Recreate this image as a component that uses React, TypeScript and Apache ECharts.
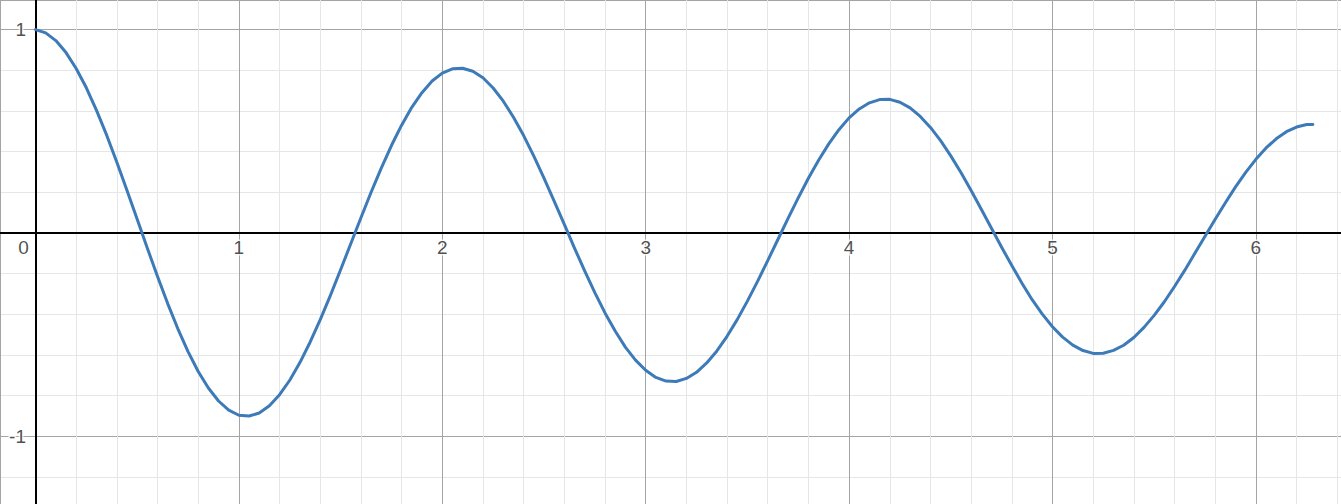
import { useEffect, useRef } from "react";
import * as echarts from "echarts";

// curve samples (x every 0.05, plus the end point at 2π)
const xs = [
  0, 0.05, 0.1, 0.15, 0.2, 0.25, 0.3, 0.35, 0.4, 0.45,
  0.5, 0.55, 0.6, 0.65, 0.7, 0.75, 0.8, 0.85, 0.9, 0.95,
  1.0, 1.05, 1.1, 1.15, 1.2, 1.25, 1.3, 1.35, 1.4, 1.45,
  1.5, 1.55, 1.6, 1.65, 1.7, 1.75, 1.8, 1.85, 1.9, 1.95,
  2.0, 2.05, 2.1, 2.15, 2.2, 2.25, 2.3, 2.35, 2.4, 2.45,
  2.5, 2.55, 2.6, 2.65, 2.7, 2.75, 2.8, 2.85, 2.9, 2.95,
  3.0, 3.05, 3.1, 3.15, 3.2, 3.25, 3.3, 3.35, 3.4, 3.45,
  3.5, 3.55, 3.6, 3.65, 3.7, 3.75, 3.8, 3.85, 3.9, 3.95,
  4.0, 4.05, 4.1, 4.15, 4.2, 4.25, 4.3, 4.35, 4.4, 4.45,
  4.5, 4.55, 4.6, 4.65, 4.7, 4.75, 4.8, 4.85, 4.9, 4.95,
  5.0, 5.05, 5.1, 5.15, 5.2, 5.25, 5.3, 5.35, 5.4, 5.45,
  5.5, 5.55, 5.6, 5.65, 5.7, 5.75, 5.8, 5.85, 5.9, 5.95,
  6.0, 6.05, 6.1, 6.15, 6.2, 6.25, 6.28,
];
const ys = [
  1.0, 0.984, 0.946, 0.887, 0.809, 0.714, 0.603, 0.481, 0.348, 0.209,
  0.067, -0.075, -0.214, -0.347, -0.471, -0.583, -0.681, -0.762, -0.826, -0.871,
  -0.896, -0.9, -0.885, -0.849, -0.795, -0.724, -0.637, -0.537, -0.426, -0.307,
  -0.181, -0.053, 0.075, 0.2, 0.319, 0.43, 0.53, 0.618, 0.69, 0.747,
  0.786, 0.807, 0.81, 0.795, 0.763, 0.713, 0.648, 0.569, 0.479, 0.378,
  0.27, 0.157, 0.042, -0.074, -0.186, -0.293, -0.393, -0.482, -0.561, -0.625,
  -0.675, -0.71, -0.728, -0.73, -0.715, -0.685, -0.639, -0.58, -0.508, -0.426,
  -0.335, -0.238, -0.136, -0.032, 0.072, 0.173, 0.269, 0.358, 0.438, 0.508,
  0.566, 0.61, 0.64, 0.656, 0.657, 0.643, 0.615, 0.573, 0.519, 0.454,
  0.379, 0.297, 0.209, 0.117, 0.023, -0.07, -0.16, -0.247, -0.328, -0.399,
  -0.461, -0.512, -0.551, -0.578, -0.592, -0.591, -0.577, -0.552, -0.514, -0.464,
  -0.405, -0.338, -0.263, -0.184, -0.1, -0.016, 0.068, 0.149, 0.227, 0.298,
  0.362, 0.418, 0.463, 0.498, 0.521, 0.533, 0.534,
];

// tick labels shown on the axes
const xTickLabels = [1, 2, 3, 4, 5, 6];
const yTickLabels = [1, -1];

// visible window
const xRange = [-0.1745, 6.4185];
const yRange = [-1.3324, 1.1455];

const labelFont = '"Liberation Sans", Arial, sans-serif';
const labelStyle = {
  show: true,
  color: "#222222",
  fontSize: 19,
  fontFamily: labelFont,
  textBorderColor: "#ffffff",
  textBorderWidth: 3,
};

const gridAxis = (min: number, max: number) => ({
  type: "value",
  min,
  max,
  minInterval: 1,
  maxInterval: 1,
  axisLine: { onZero: true, lineStyle: { color: "#000000", width: 2 } },
  axisTick: { show: false },
  axisLabel: { show: false },
  splitLine: { show: true, lineStyle: { color: "#a4a4a4", width: 1 } },
  minorTick: { show: false, splitNumber: 5 },
  minorSplitLine: { show: true, lineStyle: { color: "#e6e6e6", width: 1 } },
});

export default function App() {
  const ref = useRef<HTMLDivElement>(null);

  useEffect(() => {
    if (!ref.current) return;
    const chart = echarts.init(ref.current, undefined, { renderer: "svg" });
    chart.setOption({
      animation: false,
      backgroundColor: "#ffffff",
      grid: {
        left: 0,
        right: 0,
        top: 0,
        bottom: 0,
        containLabel: false,
        outerBoundsMode: "none",
      },
      xAxis: gridAxis(xRange[0], xRange[1]),
      yAxis: gridAxis(yRange[0], yRange[1]),
      series: [
        {
          type: "line",
          data: xs.map((x, i) => [x, ys[i]]),
          smooth: false,
          showSymbol: false,
          lineStyle: { color: "#3d7ab8", width: 3, join: "round", cap: "round" },
          itemStyle: { color: "#3d7ab8" },
          z: 5,
        },
        {
          type: "scatter",
          silent: true,
          symbolSize: 1,
          itemStyle: { color: "transparent" },
          data: xTickLabels.map((v) => [v, 0]),
          label: {
            ...labelStyle,
            position: "bottom",
            distance: 5,
            formatter: (p: any) => String(p.value[0]),
          },
          z: 3,
        },
        {
          type: "scatter",
          silent: true,
          symbolSize: 1,
          itemStyle: { color: "transparent" },
          data: yTickLabels.map((v) => [0, v]),
          label: {
            ...labelStyle,
            position: "left",
            distance: 9,
            formatter: (p: any) => String(p.value[1]),
          },
          z: 3,
        },
        {
          type: "scatter",
          silent: true,
          symbolSize: 1,
          itemStyle: { color: "transparent" },
          data: [[0, 0]],
          label: {
            ...labelStyle,
            position: "bottom",
            distance: 5,
            offset: [-12, 0],
            formatter: "0",
          },
          z: 3,
        },
      ],
    });
    return () => chart.dispose();
  }, []);

  return (
    <div
      ref={ref}
      style={{ position: "fixed", left: 0, top: 0, width: 1341, height: 504 }}
    />
  );
}
